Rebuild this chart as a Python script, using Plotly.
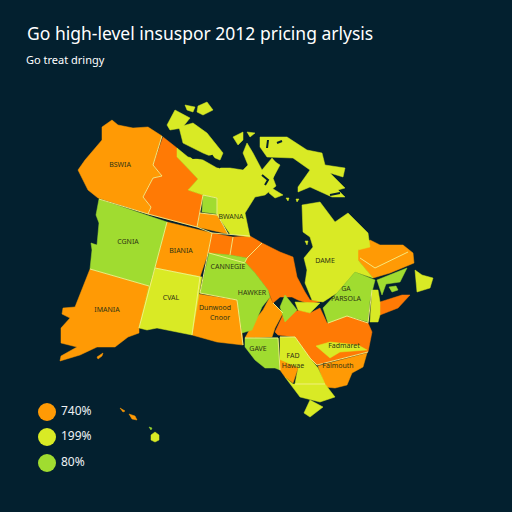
import plotly.graph_objects as go

# outlines, in picture pixels
bswia = [(112,120),(118,125),(133,128),(148,127),(162,136),(153,165),(162,176),(153,178),(143,197),(151,207),(148,214),(98,198),(88,190),(78,170),(85,160),(102,140),(102,127),(106,124)]
north_mid = [(163,137),(177,148),(177,157),(198,179),(188,190),(203,195),(197,227),(148,214),(151,207),(143,197),(153,178),(162,176),(153,165)]
mainland = [(177,148),(188,157),(203,160),(217,168),(230,168),(243,170),(248,165),(243,153),(247,143),(253,153),(262,170),(272,158),(278,165),(273,178),(276,186),(265,195),(255,197),(245,213),(250,237),(230,234),(217,215),(217,198),(203,195),(188,190),(198,179),(177,157)]
small_box = [(203,195),(217,198),(217,214),(202,212)]
small_orange = [(200,213),(217,215),(228,234),(197,227)]
square_a = [(212,233),(233,237),(230,255),(208,253)]
square_b = [(233,237),(250,236),(262,243),(247,258),(230,255)]
ontario = [(262,243),(280,252),(293,257),(297,277),(305,292),(310,300),(322,301),(310,304),(298,300),(292,297),(280,297),(273,303),(268,290),(255,273),(245,262),(247,258)]
bonana = [(167,222),(212,233),(208,253),(200,277),(155,268)]
cgnia = [(99,199),(167,222),(155,268),(149,286),(90,269),(92,250),(91,243),(97,245),(99,223),(96,215)]
imania = [(90,269),(149,286),(139,328),(139,333),(128,337),(115,347),(97,347),(80,355),(60,361),(61,356),(77,347),(61,343),(61,328),(70,318),(62,314),(63,308),(75,307)]
imania_isle = [(97,357),(103,353),(102,356),(98,359)]
cval = [(155,268),(202,277),(192,335),(157,328),(147,330),(139,328),(149,286)]
denver = [(198,294),(237,300),(242,333),(243,345),(217,342),(192,335)]
carnegie = [(209,253),(230,255),(247,258),(245,262),(255,273),(268,290),(270,297),(262,307),(252,330),(242,333),(237,300),(200,293)]
south_orange = [(273,303),(283,313),(275,328),(272,337),(245,338),(255,320),(263,310),(270,297)]
tiny_green = [(285,295),(297,310),(285,322),(280,307)]
tiny_yellow = [(295,302),(320,303),(310,313),(298,310)]
parsola = [(355,272),(375,280),(370,300),(368,322),(347,316),(328,323),(323,308),(337,293)]
dame = [(302,205),(320,202),(335,222),(348,213),(368,233),(370,247),(358,250),(358,260),(373,278),(355,272),(337,293),(323,302),(312,300),(305,283),(307,270),(304,258),(313,247),(310,237),(303,232)]
northeast = [(370,240),(380,245),(403,245),(413,253),(414,263),(390,273),(373,278),(358,260),(358,250)]
gulf_green = [(377,280),(407,268),(400,282),(386,284),(382,295)]
gulf_blob = [(389,287),(396,286),(398,290),(392,292)]
newfoundland = [(415,270),(422,275),(433,278),(430,288),(417,292)]
scotia = [(380,302),(402,295),(410,295),(403,303),(398,308),(380,315)]
strip = [(372,290),(378,290),(380,302),(380,315),(378,322),(370,322)]
southeast = [(300,310),(310,313),(320,308),(327,323),(347,316),(368,323),(372,332),(368,352),(317,365),(310,358),(295,337),(278,335),(275,332),(283,315)]
inner_yellow = [(316,346),(330,342),(358,345),(367,350),(340,352),(330,358)]
florida = [(318,366),(367,353),(363,367),(352,373),(347,385),(335,388),(325,387)]
gave = [(245,338),(278,338),(280,370),(275,368),(265,368),(255,360),(245,347)]
fad = [(280,337),(295,337),(310,358),(318,368),(325,384),(295,384),(298,368),(280,362)]
fad_orange = [(280,360),(298,368),(293,383),(285,377),(280,370)]
gulf_yellow = [(285,377),(293,384),(325,384),(335,397),(320,402),(300,397)]
tip = [(310,400),(323,407),(310,417),(304,413)]
isle_a = [(167,125),(175,110),(190,118),(182,128),(170,130)]
isle_b1 = [(185,105),(195,107),(193,112),(187,110)]
isle_b2 = [(198,106),(207,102),(213,110),(203,115),(197,112)]
isle_c = [(179,127),(193,123),(207,133),(223,153),(220,160),(203,153),(183,143)]
isle_d = [(233,137),(243,132),(243,140),(238,145)]
isle_e = [(247,132),(255,133),(250,137)]
baffin = [(260,137),(287,137),(307,150),(322,153),(325,165),(345,168),(343,177),(330,173),(345,188),(338,190),(345,197),(332,197),(310,187),(298,192),(298,187),(310,170),(293,158),(267,157),(260,147)]
isle_f = [(263,170),(272,160),(280,165),(273,178),(266,185)]
southampton = [(270,187),(283,195),(275,198),(269,193)]
bay_dot_a = [(286,198),(289,198),(288,201)]
bay_dot_b = [(296,199),(299,199),(297,202)]
bay_dot_c = [(305,241),(308,241),(307,245)]
haw_a = [(120,408),(125,411),(123,412)]
haw_b = [(129,414),(135,416),(137,420),(132,419)]
haw_c = [(149,427),(152,428),(151,430)]
haw_d = [(155,432),(159,435),(159,440),(155,442),(151,440),(151,435)]

orange = [bswia, bonana, imania, imania_isle, denver, small_orange, south_orange, northeast, florida, haw_a, haw_b]
dark_orange = [north_mid, square_a, square_b, ontario, southeast, scotia]
yellow = [mainland, cval, dame, tiny_yellow, newfoundland, strip, inner_yellow, fad, gulf_yellow, tip,
          isle_a, isle_b1, isle_b2, isle_c, isle_d, isle_e, baffin, isle_f, southampton,
          bay_dot_a, bay_dot_b, bay_dot_c, haw_d]
green = [small_box, cgnia, carnegie, tiny_green, parsola, gulf_green, gulf_blob, gave, haw_c]
on_top = [fad_orange]

# pale borders between regions and dark inlets in the north
borders = [[(162,136),(153,165),(162,176),(153,178),(143,197),(151,207),(148,214)],
           [(99,199),(148,214),(197,227),(212,233),(250,236)],
           [(167,222),(155,268),(139,328)], [(90,269),(149,286)], [(155,268),(200,277),(192,335)],
           [(212,233),(200,293),(237,300),(243,345)], [(209,253),(245,263)], [(233,237),(230,255)],
           [(203,195),(197,227)], [(200,213),(217,215)], [(203,195),(217,198),(217,214),(228,234)],
           [(262,243),(247,258),(245,262)], [(245,338),(278,338),(280,370)], [(280,337),(295,337),(310,358),(317,365),(368,352)],
           [(295,384),(325,384)], [(360,258),(375,268),(408,252)], [(328,323),(347,316),(368,323),(372,290)], [(273,303),(283,313)]]
inlets = [[(180,147),(193,158),(205,157),(218,165)], [(205,158),(212,156),(220,168)], [(235,165),(240,160),(243,168)],
          [(262,175),(268,180),(265,185)], [(330,195),(340,193)], [(268,140),(267,148)], [(277,143),(282,141)]]

label_text = ["BSWIA", "CGNIA", "BIANIA", "CVAL", "IMANIA", "BWANA", "CANNEGIE", "HAWKER", "Dunwood", "Cnoor",
              "GAVE", "DAME", "GA", "PARSOLA", "FAD", "Hawae", "Fadmaret", "Falmouth"]
label_x = [120, 128, 181, 171, 107, 231, 228, 252, 215, 220, 258, 325, 346, 346, 293, 293, 344, 338]
label_y = [165, 242, 251, 298, 310, 217, 267, 293, 308, 318, 349, 261, 289, 299, 356, 366, 346, 366]

legend_x = [47, 47, 47]
legend_y = [412, 437, 463]
legend_text = ["740%", "199%", "80%"]

BG = "#03202f"
ORANGE = "#ff9a05"
DARK_ORANGE = "#ff7a05"
YELLOW = "#d9ea25"
GREEN = "#a0dc30"

fig = go.Figure()

for group, colour in [(orange, ORANGE), (dark_orange, DARK_ORANGE), (yellow, YELLOW), (green, GREEN), (on_top, ORANGE)]:
    for region in group:
        xs = [p[0] for p in region] + [region[0][0]]
        ys = [p[1] for p in region] + [region[0][1]]
        fig.add_trace(go.Scatter(x=xs, y=ys, mode="lines", fill="toself", fillcolor=colour,
                                 line=dict(color=colour, width=0.5), hoverinfo="skip"))

for line in borders:
    fig.add_trace(go.Scatter(x=[p[0] for p in line], y=[p[1] for p in line], mode="lines",
                             line=dict(color="#f4f08a", width=0.9), hoverinfo="skip"))

for line in inlets:
    fig.add_trace(go.Scatter(x=[p[0] for p in line], y=[p[1] for p in line], mode="lines",
                             line=dict(color=BG, width=2), hoverinfo="skip"))

fig.add_trace(go.Scatter(x=label_x, y=label_y, mode="text", text=label_text, hoverinfo="skip",
                         textfont=dict(family="Noto Sans", size=7, color="#2f3414")))

fig.add_trace(go.Scatter(x=legend_x, y=legend_y, mode="markers", hoverinfo="skip",
                         marker=dict(size=18, color=[ORANGE, YELLOW, GREEN])))
fig.add_trace(go.Scatter(x=[x + 14 for x in legend_x], y=legend_y, mode="text", text=legend_text,
                         textposition="middle right", hoverinfo="skip",
                         textfont=dict(family="Noto Sans", size=12, color="#eef2f4")))

fig.add_annotation(x=27, y=33, text="Go high-level insuspor 2012 pricing arlysis", showarrow=False,
                   xanchor="left", xshift=-2, font=dict(family="Noto Sans", size=17.5, color="white"))
fig.add_annotation(x=26, y=59, text="Go treat dringy", showarrow=False,
                   xanchor="left", xshift=-2, font=dict(family="Noto Sans", size=11, color="white"))

fig.update_xaxes(range=[0, 512], visible=False)
fig.update_yaxes(range=[512, 0], visible=False)
fig.update_layout(width=512, height=512, margin=dict(l=0, r=0, t=0, b=0), showlegend=False,
                  paper_bgcolor=BG, plot_bgcolor=BG)

# the page's default body margin would leave a white frame
fig.write_html("out.html", config={"displayModeBar": False},
               post_script="document.body.style.margin='0';document.body.style.background='%s';" % BG)
